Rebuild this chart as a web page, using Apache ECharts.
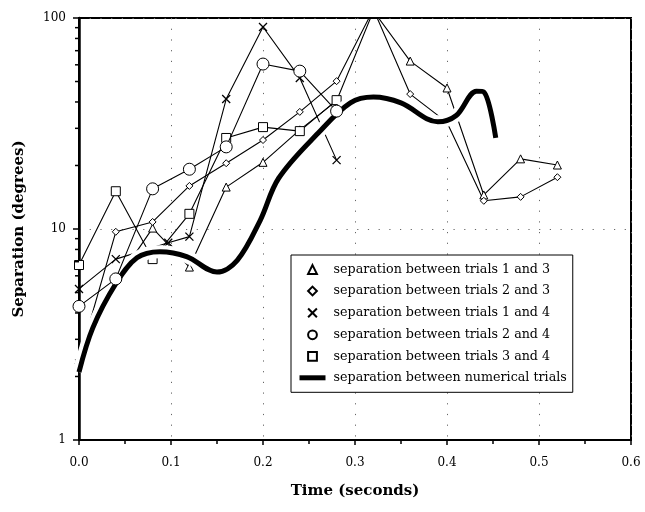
<!DOCTYPE html>
<html><head><meta charset="utf-8">
<script src="https://cdn.jsdelivr.net/npm/echarts@6/dist/echarts.min.js"></script>
<style>html,body{margin:0;padding:0;background:#fff}#c{width:645px;height:512px}</style>
</head><body><div id="c"></div>
<script>
// ---- data (time in seconds, separation in degrees) ----
const timeSteps = [0, 0.04, 0.08, 0.12, 0.16, 0.2, 0.24, 0.28, 0.32, 0.36, 0.4, 0.44, 0.48, 0.52];
const sep13 = [2.4, 5.6, 10.1, 6.6, 15.8, 20.7, 29.5, 40.5, 108, 62.5, 46.6, 14.5, 21.5, 20.1];
const sep23 = [2.4, 9.7, 10.8, 16.0, 20.5, 26.4, 35.9, 50.2, 110, 43.6, 32.0, 13.6, 14.2, 17.6];
const sep14Time = [0, 0.04, 0.097, 0.12, 0.16, 0.2, 0.24, 0.28];
const sep14 = [5.2, 7.2, 8.6, 9.2, 41.3, 90.6, 52.0, 21.2];
const sep24Time = [0, 0.04, 0.08, 0.12, 0.16, 0.2, 0.24, 0.28];
const sep24 = [4.3, 5.8, 15.5, 19.2, 24.5, 60.5, 56.0, 36.2];
const sep34Time = [0, 0.04, 0.08, 0.12, 0.16, 0.2, 0.24, 0.28];
const sep34 = [6.75, 15.1, 7.2, 11.8, 27.0, 30.4, 29.1, 40.8];
const numTime = [0, 0.015, 0.04, 0.063, 0.088, 0.117, 0.15, 0.172, 0.197, 0.217, 0.26, 0.295, 0.32, 0.35, 0.39, 0.41, 0.432, 0.44, 0.453];
const numSep  = [2.1, 3.4, 5.5, 7.3, 7.8, 7.4, 6.25, 7.1, 11.0, 17.4, 28.5, 39.6, 42.2, 39.6, 32.2, 34.5, 45.0, 44.6, 27.0];
const yMinorTicks = [2, 3, 4, 5, 6, 7, 8, 9, 20, 30, 40, 50, 60, 70, 80, 90];

const names = [
  'separation between trials 1 and 3',
  'separation between trials 2 and 3',
  'separation between trials 1 and 4',
  'separation between trials 2 and 4',
  'separation between trials 3 and 4',
  'separation between numerical trials'
];

const zip = (t, v) => t.map((x, i) => [x, v[i]]);
const serif = '"DejaVu Serif", "Liberation Serif", serif';
const hollow = { color: '#fff', borderColor: '#000', borderWidth: 1 };
const thin = { color: '#000', width: 1.1 };
const crossPath = 'path://M0,0L10,10M10,0L0,10';

function trial(name, data, symbol, size, extra) {
  return Object.assign({
    name, type: 'line', data, symbol, symbolSize: size,
    itemStyle: hollow, lineStyle: thin, showSymbol: true, z: 2,
    emphasis: { disabled: true }
  }, extra || {});
}

const chart = echarts.init(document.getElementById('c'), null, { renderer: 'canvas' });
chart.setOption({
  animation: false,
  backgroundColor: '#fff',
  grid: { left: 79, right: 14, top: 18, bottom: 72, show: true, borderColor: '#000', borderWidth: 2, backgroundColor: 'transparent' },
  xAxis: {
    type: 'value', min: 0, max: 0.6, interval: 0.1,
    name: 'Time (seconds)', nameLocation: 'middle', nameGap: 44,
    nameTextStyle: { fontFamily: serif, fontWeight: 'bold', fontSize: 15, color: '#000' },
    axisLine: { lineStyle: { color: '#000', width: 2 } },
    axisTick: { length: 5, lineStyle: { color: '#000', width: 1.5 } },
    minorTick: { show: true, splitNumber: 2, length: 4, lineStyle: { color: '#000', width: 1.5 } },
    axisLabel: { fontFamily: serif, fontSize: 12, color: '#000', margin: 17, formatter: v => v.toFixed(1) },
    splitLine: { show: true, lineStyle: { color: '#666', width: 1, type: [1.2, 9.5] } }
  },
  yAxis: {
    type: 'log', logBase: 10, min: 1, max: 100,
    name: 'Separation (degrees)', nameLocation: 'middle', nameGap: 52,
    nameTextStyle: { fontFamily: serif, fontWeight: 'bold', fontSize: 15, color: '#000' },
    axisLine: { lineStyle: { color: '#000', width: 2.5 } },
    axisTick: { length: 6, lineStyle: { color: '#000', width: 1.5 } },
    axisLabel: { fontFamily: serif, fontSize: 12, color: '#000', margin: 13 },
    splitLine: { show: true, lineStyle: { color: '#666', width: 1, type: [1.2, 9.5] } }
  },
  legend: {
    orient: 'vertical', left: 291, top: 255,
    backgroundColor: '#fff', borderColor: '#000', borderWidth: 1,
    padding: [8, 6, 8, 6],
    itemWidth: 26, itemHeight: 11, itemGap: 8.5,
    textStyle: { fontFamily: serif, fontSize: 12.7, color: '#000', padding: [0, 0, 0, 3] },
    data: [
      { name: names[0], lineStyle: { opacity: 0 } },
      { name: names[1], lineStyle: { opacity: 0 } },
      { name: names[2], lineStyle: { opacity: 0 } },
      { name: names[3], lineStyle: { opacity: 0 } },
      { name: names[4], lineStyle: { opacity: 0 } },
      { name: names[5], itemStyle: { opacity: 0 }, lineStyle: { width: 5, color: '#000' } }
    ]
  },
  series: [
    trial(names[0], zip(timeSteps, sep13), 'triangle', 8),
    trial(names[1], zip(timeSteps, sep23), 'diamond', 7),
    trial(names[2], zip(sep14Time, sep14), crossPath, 8, { itemStyle: { color: 'none', borderColor: '#000', borderWidth: 1.3 } }),
    trial(names[3], zip(sep24Time, sep24), 'circle', 12, { z: 5 }),
    trial(names[4], zip(sep34Time, sep34), 'rect', 9),
    { name: 'halo', type: 'line', data: zip(numTime, numSep), smooth: 0.35, symbol: 'none',
      lineStyle: { color: '#fff', width: 13 }, z: 3, silent: true },
    { name: names[5], type: 'line', data: zip(numTime, numSep), smooth: 0.35, symbol: 'none',
      itemStyle: { color: '#000' }, lineStyle: { color: '#000', width: 5 }, z: 4 }
  ]
});

// log minor ticks on the y axis, positioned through the axis scale
const ticks = yMinorTicks.map(v => {
  const p = chart.convertToPixel({ xAxisIndex: 0, yAxisIndex: 0 }, [0, v]);
  return { type: 'line', shape: { x1: p[0] - 4, y1: p[1], x2: p[0], y2: p[1] }, style: { stroke: '#000', lineWidth: 1.5 }, z: 10 };
});
chart.setOption({ graphic: ticks });
</script>
</body></html>
